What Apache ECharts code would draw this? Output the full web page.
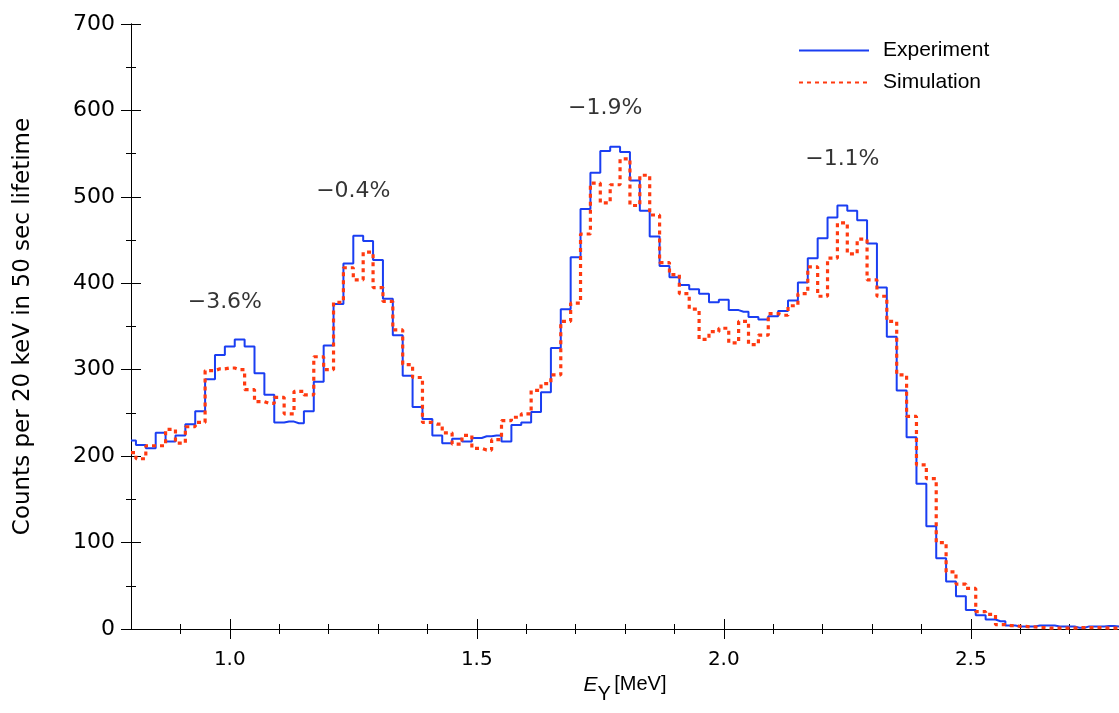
<!DOCTYPE html>
<html>
<head>
<meta charset="utf-8">
<title>Gamma spectrum</title>
<script src="https://cdn.jsdelivr.net/npm/echarts@6/dist/echarts.min.js"></script>
<style>
html, body { margin: 0; padding: 0; background: #fff; }
#chart { width: 1119px; height: 713px; }
</style>
</head>
<body>
<div id="chart"></div>
<script>
// bin centres 0.80 ... 2.80 MeV, 20 keV wide
var binStart = 0.80;
var binWidth = 0.02;

var experiment = [
  218, 213, 209, 227, 217, 224, 237, 252, 289, 317,
  327, 335, 327, 296, 271, 239, 240, 238, 252, 286,
  328, 376, 423, 455, 449, 427, 382, 340, 293, 257,
  243, 224, 215, 220, 217, 221, 223, 224, 217, 236,
  239, 251, 274, 325, 370, 430, 486, 528, 553, 558,
  552, 519, 484, 454, 420, 407, 398, 393, 388, 378,
  381, 369, 367, 361, 358, 362, 368, 380, 401, 429,
  452, 476, 490, 484, 473, 446, 395, 338, 276, 222,
  168, 119, 82, 55, 38, 22, 16, 11, 9, 4,
  3, 3, 4, 4, 3, 3, 1.5, 3, 3, 3.5,
  3
];

var simulation = [
  204, 197, 212, 212, 231, 215, 234, 239, 299, 301,
  302, 300, 277, 263, 261, 268, 249, 275, 271, 315,
  300, 378, 418, 404, 436, 395, 379, 346, 306, 291,
  239, 237, 227, 214, 224, 209, 207, 219, 241, 245,
  249, 276, 284, 294, 356, 377, 457, 516, 493, 514,
  544, 490, 525, 479, 424, 410, 388, 370, 335, 344,
  348, 331, 356, 329, 340, 365, 363, 374, 388, 419,
  385, 429, 470, 434, 451, 404, 385, 356, 294, 246,
  190, 174, 100, 66, 52, 47, 20, 17, 5, 4,
  3, 2.5, 1.5, 1, 1, 1, 1.5, 1.5, 1.5, 1,
  1
];

var xMajorTicks = [1.0, 1.5, 2.0, 2.5];
var xMinorTicks = [0.9, 1.1, 1.2, 1.3, 1.4, 1.6, 1.7, 1.8, 1.9, 2.1, 2.2, 2.3, 2.4, 2.6, 2.7];

// peak deviations
var annoText = ['\u22123.6%', '\u22120.4%', '\u22121.9%', '\u22121.1%'];
var annoE = [0.99, 1.25, 1.76, 2.24];
var annoCounts = [378, 506, 602, 544];

var energies = experiment.map(function (v, i) {
  return +(binStart + i * binWidth).toFixed(2);
});

var black = '#000';
var tickFont = 'DejaVu Sans';

function xAxisBase(extra) {
  var a = {
    type: 'value',
    min: 0.8,
    max: 2.8,
    position: 'bottom',
    axisLine: { show: true, onZero: false, lineStyle: { color: black, width: 1 } },
    splitLine: { show: false },
    axisLabel: { show: false }
  };
  for (var k in extra) a[k] = extra[k];
  return a;
}

var MyChart = echarts.init(document.getElementById('chart'));

var option = {
  backgroundColor: '#fff',
  animation: false,
  grid: { left: 131, top: 24, width: 994, height: 605 },
  legend: {
    orient: 'vertical',
    left: 798,
    top: 40,
    padding: 0,
    itemWidth: 70,
    itemHeight: 20,
    itemGap: 11,
    itemStyle: { color: 'rgba(0,0,0,0)', borderWidth: 0, opacity: 0 },
    data: ['Experiment', 'Simulation'],
    textStyle: { fontFamily: 'Liberation Sans', fontSize: 21, color: black, padding: [0, 0, 0, 9] }
  },
  xAxis: [
    xAxisBase({
      axisTick: { show: true, inside: true, length: 10, customValues: xMajorTicks, lineStyle: { color: black } },
      axisLabel: {
        show: true,
        customValues: xMajorTicks,
        margin: 21,
        fontFamily: tickFont,
        fontSize: 20,
        color: black,
        formatter: function (v) { return v.toFixed(1); }
      },
      name: '{e|E}{s|Y} {u|[MeV]}',
      nameLocation: 'middle',
      nameGap: 44,
      nameTextStyle: {
        rich: {
          e: { fontFamily: 'Liberation Sans', fontStyle: 'italic', fontSize: 21, color: black, verticalAlign: 'top', lineHeight: 22 },
          s: { fontFamily: 'Liberation Sans', fontSize: 20, color: black, verticalAlign: 'top', lineHeight: 22, padding: [10, 0, 0, 0] },
          u: { fontFamily: 'Liberation Sans', fontSize: 20, color: black, verticalAlign: 'top', lineHeight: 22 }
        }
      }
    }),
    xAxisBase({
      axisTick: { show: true, inside: false, length: 10, customValues: xMajorTicks, lineStyle: { color: black } }
    }),
    xAxisBase({
      axisTick: { show: true, inside: true, length: 5, customValues: xMinorTicks, lineStyle: { color: black } }
    }),
    xAxisBase({
      axisTick: { show: true, inside: false, length: 5, customValues: xMinorTicks, lineStyle: { color: black } }
    })
  ],
  yAxis: [
    {
      type: 'value',
      min: 0,
      max: 700,
      interval: 100,
      position: 'left',
      axisLine: { show: true, lineStyle: { color: black, width: 1 } },
      axisTick: { show: true, inside: true, length: 10, lineStyle: { color: black } },
      minorTick: { show: true, splitNumber: 2, length: 5, lineStyle: { color: black } },
      splitLine: { show: false },
      axisLabel: { margin: 16, fontFamily: tickFont, fontSize: 22, color: black },
      name: 'Counts per 20 keV in 50 sec lifetime',
      nameLocation: 'middle',
      nameGap: 96,
      nameTextStyle: { fontFamily: 'DejaVu Sans', fontSize: 23, color: black }
    },
    {
      type: 'value',
      min: 0,
      max: 700,
      interval: 100,
      position: 'left',
      axisLine: { show: true, lineStyle: { color: black, width: 1 } },
      axisTick: { show: true, inside: false, length: 10, lineStyle: { color: black } },
      minorTick: { show: true, splitNumber: 2, length: 5, lineStyle: { color: black } },
      splitLine: { show: false },
      axisLabel: { show: false }
    }
  ],
  series: [
    {
      name: 'Experiment',
      type: 'line',
      step: 'middle',
      symbol: 'none',
      data: energies.map(function (e, i) { return [e, experiment[i]]; }),
      lineStyle: { color: '#1a3ef2', width: 2 },
      itemStyle: { color: '#1a3ef2' },
      z: 2
    },
    {
      name: 'Simulation',
      type: 'line',
      step: 'middle',
      symbol: 'none',
      data: energies.map(function (e, i) { return [e, simulation[i]]; }),
      lineStyle: { color: '#ff3a10', width: 3.2, type: [4, 4] },
      itemStyle: { color: '#ff3a10' },
      z: 3
    },
    {
      name: 'labels',
      type: 'scatter',
      silent: true,
      symbolSize: 1,
      itemStyle: { color: 'rgba(0,0,0,0)' },
      data: annoText.map(function (t, i) { return { name: t, value: [annoE[i], annoCounts[i]] }; }),
      label: {
        show: true,
        position: 'inside',
        formatter: function (p) { return p.name; },
        fontFamily: 'DejaVu Sans',
        fontSize: 22,
        color: black
      },
      z: 4
    }
  ]
};
MyChart.setOption(option);
</script>
</body>
</html>
